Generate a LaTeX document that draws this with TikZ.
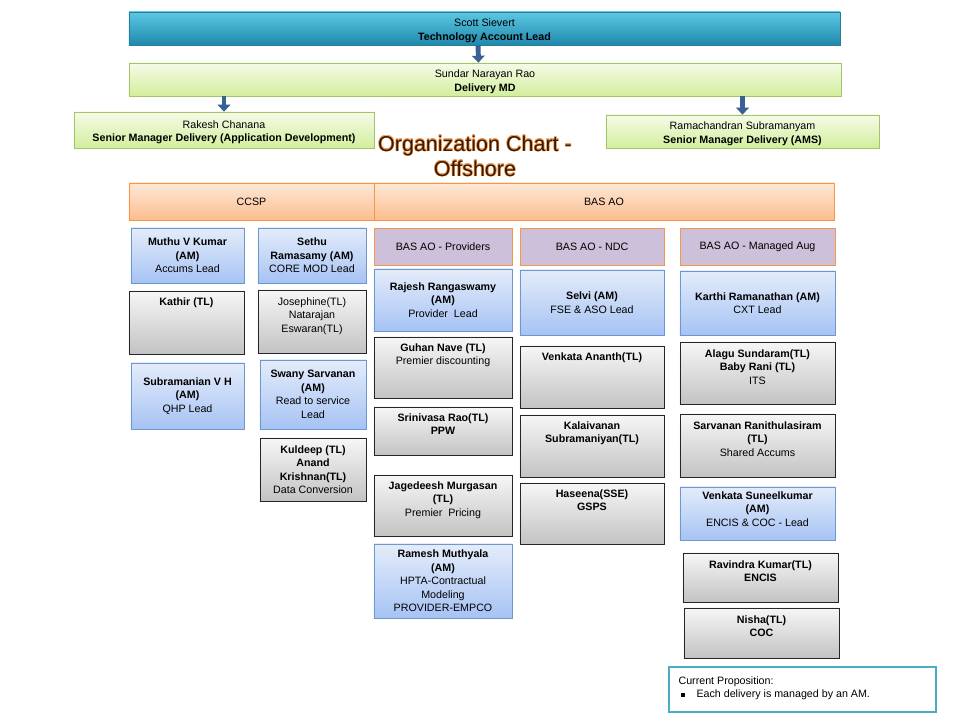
\documentclass[tikz,border=0pt]{standalone}
\usepackage{fontspec}
\setmainfont{Liberation Sans}
\usetikzlibrary{positioning,arrows.meta,shadows}
\definecolor{tealtop}{HTML}{5CC8E2}
\definecolor{tealbot}{HTML}{1E88AC}
\definecolor{tealln}{HTML}{2A7C9A}
\definecolor{greentop}{HTML}{F5FBE8}
\definecolor{greenbot}{HTML}{D3EE9C}
\definecolor{greenln}{HTML}{A3C468}
\definecolor{orangetop}{HTML}{FEE8D6}
\definecolor{orangebot}{HTML}{FBBD8E}
\definecolor{orangeln}{HTML}{F79646}
\definecolor{bluetop}{HTML}{E4ECFA}
\definecolor{bluebot}{HTML}{A6C3F4}
\definecolor{blueln}{HTML}{6F97CF}
\definecolor{greytop}{HTML}{F6F6F6}
\definecolor{greybot}{HTML}{C3C3C3}
\definecolor{purplefill}{HTML}{CCC0DA}
\definecolor{noteln}{HTML}{4BACC6}
\definecolor{arrowblue}{HTML}{3A6196}
\definecolor{titledark}{HTML}{3A1A00}
\definecolor{titleglow}{HTML}{F2A060}
\tikzset{
every node/.style={font=\fontsize{7.6}{9.6}\selectfont},
card/.style={draw,rectangle,inner sep=1pt,align=center,drop shadow={shadow xshift=0.8pt,shadow yshift=-0.8pt,opacity=0.35}},
tealbox/.style={card,draw=tealln,top color=tealtop,bottom color=tealbot},
greenbox/.style={card,draw=greenln,top color=greentop,bottom color=greenbot},
orangebox/.style={card,draw=orangeln,top color=orangetop,bottom color=orangebot},
bluebox/.style={card,draw=blueln,top color=bluetop,bottom color=bluebot},
greybox/.style={card,draw=black!85,top color=greytop,bottom color=greybot},
purplebox/.style={card,draw=orangeln,fill=purplefill,minimum height=0.925cm},
toptext/.style={inner sep=0pt,align=center},
titletext/.style={align=center,font=\fontsize{15.3}{17.7}\selectfont},
downarrow/.style={draw=arrowblue,line width=3.5pt,-{Triangle[length=5pt,width=9pt]}},
}
\newcommand{\lowtop}{\rule{0pt}{9pt}}
\begin{document}
\begin{tikzpicture}[x=0.025cm,y=-0.025cm]
\useasboundingbox (0,0) rectangle (960,721);
% top of the chart
\node[tealbox,minimum width=17.775cm,minimum height=0.825cm] (scott) at (484.5,28.5) {\lowtop Scott Sievert\\\textbf{Technology Account Lead}};
\node[greenbox,minimum width=17.8cm,minimum height=0.825cm] (sundar) at (485,79.5) {\lowtop Sundar Narayan Rao\\\textbf{Delivery MD}};
\node[greenbox,minimum width=7.5cm,minimum height=0.9cm] (rakesh) at (224,130) {\lowtop Rakesh Chanana\\\textbf{Senior Manager Delivery (Application Development)}};
\node[greenbox,minimum width=6.825cm,minimum height=0.825cm] (rama) at (742.5,131.5) {\lowtop Ramachandran Subramanyam\\\textbf{Senior Manager Delivery (AMS)}};
\draw[downarrow]([xshift=-4.6pt]scott.south)--([xshift=-4.6pt]sundar.north);
\draw[downarrow](rakesh.north|-sundar.south)--(rakesh.north);
\draw[downarrow](rama.north|-sundar.south)--(rama.north);
% title with its glow
\coordinate (titlepos) at (475,156);
\foreach \a in {0,30,...,330}
  \node[titletext,text=titleglow] at ([shift={(\a:0.4pt)}]titlepos) {Organization Chart -\\Offshore};
\node[titletext,text=titledark] (title) at (titlepos) {Organization Chart -\\Offshore};
% groups
\node[orangebox,minimum width=6.125cm,minimum height=0.925cm] (ccsp) at (251.5,201.5) {CCSP};
\node[orangebox,minimum width=11.5cm,minimum height=0.925cm] (basao) at (604,201.5) {BAS AO};
% CCSP
\node[bluebox,minimum width=2.825cm,minimum height=1.375cm] (muthu) at (187.5,255.5) {\textbf{Muthu V Kumar}\\\textbf{(AM)}\\Accums Lead};
\node[greybox,minimum width=2.875cm,minimum height=1.575cm] (kathir) at (186.5,322.5) {};
\node[toptext,below=4.8pt of kathir.north] {\textbf{Kathir (TL)}};
\node[bluebox,minimum width=2.825cm,minimum height=1.65cm] (subra) at (187.5,396) {\textbf{Subramanian V H}\\\textbf{(AM)}\\QHP Lead};
\node[bluebox,minimum width=2.7cm,minimum height=1.375cm] (sethu) at (312,255.5) {\textbf{Sethu}\\\textbf{Ramasamy (AM)}\\CORE MOD Lead};
\node[greybox,minimum width=2.7cm,minimum height=1.575cm] (joseph) at (312,321.5) {};
\node[toptext,below=5.2pt of joseph.north] {Josephine(TL)\\Natarajan\\Eswaran(TL)};
\node[bluebox,minimum width=2.65cm,minimum height=1.725cm] (swany) at (313,394.5) {\textbf{Swany Sarvanan}\\\textbf{(AM)}\\Read to service\\Lead};
\node[greybox,minimum width=2.65cm,minimum height=1.575cm] (kuldeep) at (313,469.5) {\textbf{Kuldeep (TL)}\\\textbf{Anand}\\\textbf{Krishnan(TL)}\\Data Conversion};
% BAS AO - Providers
\node[purplebox,minimum width=3.45cm] (hprov) at (443,246.5) {BAS AO - Providers};
\node[bluebox,minimum width=3.45cm,minimum height=1.55cm] (rajesh) at (443,300) {\textbf{Rajesh Rangaswamy}\\\textbf{(AM)}\\Provider\ \ Lead};
\node[greybox,minimum width=3.45cm,minimum height=1.525cm] (guhan) at (443,367.5) {};
\node[toptext,below=4.8pt of guhan.north] {\textbf{Guhan Nave (TL)}\\Premier discounting};
\node[greybox,minimum width=3.45cm,minimum height=1.2cm] (srini) at (443,431) {};
\node[toptext,below=4.8pt of srini.north] {\textbf{Srinivasa Rao(TL)}\\\textbf{PPW}};
\node[greybox,minimum width=3.45cm,minimum height=1.525cm] (jaged) at (443,505.5) {};
\node[toptext,below=4.8pt of jaged.north] {\textbf{Jagedeesh Murgasan}\\\textbf{(TL)}\\Premier\ \ Pricing};
\node[bluebox,minimum width=3.45cm,minimum height=1.85cm] (ramesh) at (443,581) {\textbf{Ramesh Muthyala}\\\textbf{(AM)}\\HPTA-Contractual\\Modeling\\PROVIDER-EMPCO};
% BAS AO - NDC
\node[purplebox,minimum width=3.6cm] (hndc) at (592,246.5) {BAS AO - NDC};
\node[bluebox,minimum width=3.6cm,minimum height=1.625cm] (selvi) at (592,302.5) {\textbf{Selvi (AM)}\\FSE \& ASO Lead};
\node[greybox,minimum width=3.6cm,minimum height=1.55cm] (vananth) at (592,377) {};
\node[toptext,below=4.8pt of vananth.north] {\textbf{Venkata Ananth(TL)}};
\node[greybox,minimum width=3.6cm,minimum height=1.55cm] (kalai) at (592,446) {};
\node[toptext,below=4.8pt of kalai.north] {\textbf{Kalaivanan}\\\textbf{Subramaniyan(TL)}};
\node[greybox,minimum width=3.6cm,minimum height=1.525cm] (haseena) at (592,513.5) {};
\node[toptext,below=4.8pt of haseena.north] {\textbf{Haseena(SSE)}\\\textbf{GSPS}};
% BAS AO - Managed Aug
\node[purplebox,minimum width=3.875cm] (hman) at (757.5,246.5) {BAS AO - Managed Aug};
\node[bluebox,minimum width=3.875cm,minimum height=1.6cm] (karthi) at (757.5,303) {\textbf{Karthi Ramanathan (AM)}\\CXT Lead};
\node[greybox,minimum width=3.875cm,minimum height=1.55cm] (alagu) at (757.5,373) {};
\node[toptext,below=5.2pt of alagu.north] {\textbf{Alagu Sundaram(TL)}\\\textbf{Baby Rani (TL)}\\ITS};
\node[greybox,minimum width=3.875cm,minimum height=1.575cm] (sarv) at (757.5,445.5) {};
\node[toptext,below=5.2pt of sarv.north] {\textbf{Sarvanan Ranithulasiram}\\\textbf{(TL)}\\Shared Accums};
\node[bluebox,minimum width=3.875cm,minimum height=1.325cm] (vsunil) at (757.5,513.5) {};
\node[toptext,below=3.2pt of vsunil.north] {\textbf{Venkata Suneelkumar}\\\textbf{(AM)}\\ENCIS \& COC - Lead};
\node[greybox,minimum width=3.875cm,minimum height=1.225cm] (ravi) at (760.5,577.5) {};
\node[toptext,below=5.2pt of ravi.north] {\textbf{Ravindra Kumar(TL)}\\\textbf{ENCIS}};
\node[greybox,minimum width=3.875cm,minimum height=1.25cm] (nisha) at (761.5,633) {};
\node[toptext,below=5.2pt of nisha.north] {\textbf{Nisha(TL)}\\\textbf{COC}};
% note
\node[draw=noteln,line width=2pt,fill=white,minimum width=6.675cm,minimum height=1.125cm] (note) at (802.5,689.5) {};
\node[toptext,align=left,anchor=north west] at ([xshift=7.6pt,yshift=-7.5pt]note.north west) {Current Proposition:\\\hspace*{2pt}\rule[0.8pt]{2.5pt}{2.5pt}\hspace{8.3pt}Each delivery is managed by an AM.};
\end{tikzpicture}
\end{document}
